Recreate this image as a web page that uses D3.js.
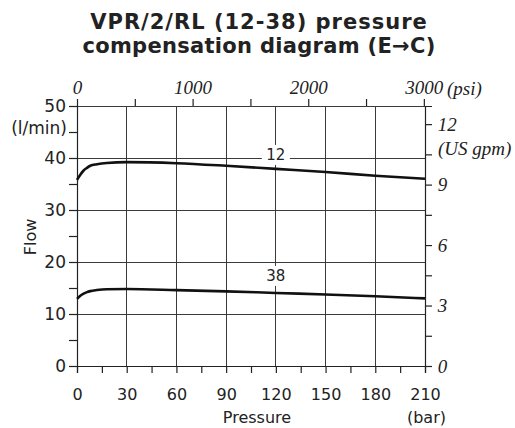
<!DOCTYPE html>
<html>
<head>
<meta charset="utf-8">
<script src="https://cdn.jsdelivr.net/npm/d3@7"></script>
<style>
  body { margin: 0; background: #fff; }
  svg { display: block; }
</style>
</head>
<body>
<svg id="chart" width="515" height="428"></svg>
<script>
// Flow vs. pressure for the two cartridge sizes
const pressureBar = [0, 2, 4, 6, 8, 12, 18, 30, 60, 90, 120, 150, 180, 210];
const flow12 = [35.8, 36.8, 37.6, 38.1, 38.5, 38.8, 39.05, 39.2, 39.0, 38.5, 37.9, 37.3, 36.6, 36.0];
const flow38 = [12.9, 13.5, 13.9, 14.2, 14.4, 14.6, 14.75, 14.8, 14.6, 14.35, 14.05, 13.75, 13.4, 13.0];
const seriesNames = ["12", "38"];
const labelAt = 120; // bar position of the series labels

const barTicks = [0, 30, 60, 90, 120, 150, 180, 210];
const flowTicks = [0, 10, 20, 30, 40, 50];
const psiTicks = [0, 1000, 2000, 3000];
const gpmTicks = [0, 3, 6, 9, 12];

// Secondary scales as printed on the diagram (right edge = 210 bar, top edge = 50 l/min)
const PSI_AT_210_BAR = 3010;
const GPM_AT_50_LPM = 12.9;

const svg = d3.select("#chart");
const plotL = 77, plotR = 425, plotT = 106, plotB = 366;

const x = d3.scaleLinear().domain([0, 210]).range([plotL, plotR]);
const y = d3.scaleLinear().domain([0, 50]).range([plotB, plotT]);
const xPsi = d3.scaleLinear().domain([0, PSI_AT_210_BAR]).range([plotL, plotR]);
const yGpm = d3.scaleLinear().domain([0, GPM_AT_50_LPM]).range([plotB, plotT]);

const sans = "DejaVu Sans, Verdana, sans-serif";
const serif = "Liberation Serif, Times New Roman, serif";
const ink = "#222";

// Title
svg.append("text").attr("x", 259).attr("y", 29).attr("text-anchor", "middle")
  .attr("font-family", sans).attr("font-weight", "bold").attr("font-size", 21)
  .attr("letter-spacing", 1).attr("fill", ink)
  .text("VPR/2/RL (12-38) pressure");
svg.append("text").attr("x", 259).attr("y", 53).attr("text-anchor", "middle")
  .attr("font-family", sans).attr("font-weight", "bold").attr("font-size", 21)
  .attr("letter-spacing", 0.3).attr("fill", ink)
  .text("compensation diagram (E\u2192C)");

// Grid
const grid = svg.append("g").attr("stroke", "#3a3a3a").attr("stroke-width", 1).attr("shape-rendering", "crispEdges");
grid.selectAll("line.v").data(barTicks.slice(1, -1)).join("line").attr("class", "v")
  .attr("x1", d => x(d)).attr("x2", d => x(d)).attr("y1", plotT).attr("y2", plotB);
grid.selectAll("line.h").data(flowTicks.slice(1)).join("line").attr("class", "h")
  .attr("x1", plotL).attr("x2", plotR).attr("y1", d => y(d)).attr("y2", d => y(d));

// Bottom axis (bar)
const xAxis = svg.append("g").attr("transform", `translate(0,${plotB})`)
  .call(d3.axisBottom(x).tickValues(d3.range(0, 211, 15)).tickSize(7).tickFormat(d => barTicks.includes(d) ? d : ""));
// Left axis (l/min)
const yAxis = svg.append("g").attr("transform", `translate(${plotL},0)`)
  .call(d3.axisLeft(y).tickValues(d3.range(0, 51, 5)).tickSize(8).tickFormat(d => flowTicks.includes(d) ? d : ""));
// Top axis (psi)
const topAxis = svg.append("g").attr("transform", `translate(0,${plotT})`)
  .call(d3.axisTop(xPsi).tickValues(d3.range(0, 3001, 500)).tickSize(7).tickFormat(d => psiTicks.includes(d) ? d : ""));
// Right axis (US gpm)
const rightAxis = svg.append("g").attr("transform", `translate(${plotR},0)`)
  .call(d3.axisRight(yGpm).tickValues(d3.range(0, 12.1, 1.5)).tickSize(7).tickFormat(d => gpmTicks.includes(d) ? d : ""));

[xAxis, yAxis, topAxis, rightAxis].forEach(g => {
  g.select(".domain").attr("stroke", ink).attr("stroke-width", 1.2);
  g.selectAll(".tick line").attr("stroke", ink).attr("stroke-width", 1.2);
});
xAxis.selectAll("text").attr("font-family", sans).attr("font-size", 16).attr("fill", ink).attr("dy", "1.5em");
yAxis.selectAll("text").attr("font-family", sans).attr("font-size", 17).attr("fill", ink).attr("dx", "0em");
topAxis.select(".domain").remove();
topAxis.selectAll("text").attr("font-family", serif).attr("font-style", "italic").attr("font-size", 19).attr("fill", ink).attr("dy", "-0.1em");
rightAxis.selectAll("text").attr("font-family", serif).attr("font-style", "italic").attr("font-size", 19).attr("fill", ink).attr("dx", "0.15em");

// Unit labels
svg.append("text").attr("x", 447).attr("y", 95).attr("font-family", serif).attr("font-style", "italic")
  .attr("font-size", 19).attr("fill", ink).text("(psi)");
svg.append("text").attr("x", 438).attr("y", 155).attr("font-family", serif).attr("font-style", "italic")
  .attr("font-size", 19).attr("fill", ink).text("(US gpm)");
svg.append("text").attr("x", 67).attr("y", 134).attr("text-anchor", "end").attr("font-family", sans)
  .attr("font-size", 17).attr("fill", ink).text("(l/min)");
svg.append("text").attr("x", 446).attr("y", 423).attr("text-anchor", "end").attr("font-family", sans)
  .attr("font-size", 16).attr("fill", ink).text("(bar)");
svg.append("text").attr("x", 257).attr("y", 423).attr("text-anchor", "middle").attr("font-family", sans)
  .attr("font-size", 16).attr("fill", ink).text("Pressure");
svg.append("text").attr("transform", "translate(36,237) rotate(-90)").attr("text-anchor", "middle")
  .attr("font-family", sans).attr("font-size", 16).attr("fill", ink).text("Flow");

// Curves
const line = d3.line().x((d, i) => x(pressureBar[i])).y(d => y(d)).curve(d3.curveMonotoneX);
[flow12, flow38].forEach((vals, k) => {
  svg.append("path").datum(vals).attr("d", line).attr("fill", "none")
    .attr("stroke", "#111").attr("stroke-width", 2.6);
  const lv = vals[pressureBar.indexOf(labelAt)];
  const cy = y(lv) - (k === 0 ? 14 : 17);
  svg.append("rect").attr("x", x(labelAt) - 14).attr("y", cy - 10).attr("width", 28).attr("height", 20).attr("fill", "#fff");
  svg.append("text").attr("x", x(labelAt)).attr("y", cy + 5.5).attr("text-anchor", "middle")
    .attr("font-family", sans).attr("font-size", 15).attr("fill", ink).text(seriesNames[k]);
});
</script>
</body>
</html>
